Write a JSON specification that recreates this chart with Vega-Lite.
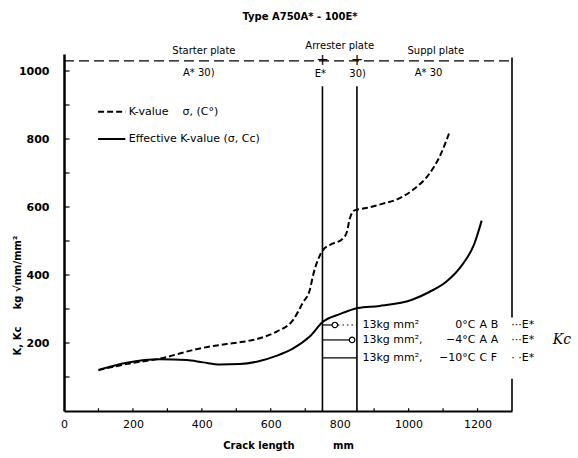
{
  "$schema": "https://vega.github.io/schema/vega-lite/v6.json",
  "width": 448,
  "height": 357,
  "autosize": "none",
  "padding": {"left": 64, "top": 54, "right": 66, "bottom": 47},
  "background": "white",
  "config": {"view": {"stroke": null}, "font": "DejaVu Sans", "text": {"font": "DejaVu Sans", "color": "black"}},
  "title": {"text": "Type A750A* - 100E*", "fontSize": 10, "fontWeight": "bold", "font": "DejaVu Sans", "color": "black", "anchor": "middle", "frame": "group", "offset": 19, "dx": 12},
  "datasets": {
    "kval": [
      {"x": 100, "y": 120}, {"x": 180, "y": 138}, {"x": 278, "y": 154}, {"x": 394, "y": 184}, {"x": 472, "y": 197},
      {"x": 510, "y": 202}, {"x": 568, "y": 214}, {"x": 616, "y": 233}, {"x": 665, "y": 268}, {"x": 694, "y": 320},
      {"x": 713, "y": 355}, {"x": 723, "y": 400}, {"x": 752, "y": 474}, {"x": 771, "y": 488}, {"x": 810, "y": 508},
      {"x": 821, "y": 527}, {"x": 829, "y": 565}, {"x": 843, "y": 590}, {"x": 877, "y": 597}, {"x": 926, "y": 610},
      {"x": 970, "y": 624}, {"x": 1012, "y": 650}, {"x": 1061, "y": 699}, {"x": 1090, "y": 748}, {"x": 1119, "y": 821}
    ],
    "keff": [
      {"x": 100, "y": 121}, {"x": 182, "y": 142}, {"x": 278, "y": 152}, {"x": 356, "y": 150}, {"x": 404, "y": 143},
      {"x": 452, "y": 137}, {"x": 510, "y": 138}, {"x": 568, "y": 147}, {"x": 616, "y": 162}, {"x": 665, "y": 184},
      {"x": 713, "y": 219}, {"x": 752, "y": 263}, {"x": 800, "y": 285}, {"x": 853, "y": 303}, {"x": 916, "y": 309},
      {"x": 1012, "y": 328}, {"x": 1060, "y": 350}, {"x": 1109, "y": 380}, {"x": 1157, "y": 432}, {"x": 1190, "y": 490},
      {"x": 1212, "y": 560}
    ],
    "vlines": [
      {"x": 750, "y0": 0, "y1": 955}, {"x": 850, "y0": 0, "y1": 955},
      {"x": 1300, "y0": 0, "y1": 95}, {"x": 1300, "y0": 275, "y1": 1040}
    ],
    "yticks": [
      {"y": 100, "x0": 0, "x1": 16}, {"y": 200, "x0": 0, "x1": 16}, {"y": 300, "x0": 0, "x1": 16}, {"y": 400, "x0": 0, "x1": 16},
      {"y": 500, "x0": 0, "x1": 16}, {"y": 600, "x0": 0, "x1": 16}, {"y": 700, "x0": 0, "x1": 16}, {"y": 800, "x0": 0, "x1": 16},
      {"y": 900, "x0": 0, "x1": 16}, {"y": 1000, "x0": 0, "x1": 16}
    ],
    "xticks": [
      {"x": 100, "y0": 0, "y1": 8}, {"x": 200, "y0": 0, "y1": 8}, {"x": 300, "y0": 0, "y1": 8}, {"x": 400, "y0": 0, "y1": 8},
      {"x": 500, "y0": 0, "y1": 8}, {"x": 600, "y0": 0, "y1": 8}, {"x": 700, "y0": 0, "y1": 8}, {"x": 900, "y0": 0, "y1": 8},
      {"x": 1000, "y0": 0, "y1": 8}, {"x": 1100, "y0": 0, "y1": 8}, {"x": 1200, "y0": 0, "y1": 8}
    ],
    "topline": [{"x0": 0, "x1": 1300, "y": 1030}],
    "plus": [{"x": 750, "y": 1030, "t": "+"}, {"x": 850, "y": 1030, "t": "+"}],
    "plates": [
      {"x": 406, "y": 1060, "t": "Starter plate"}, {"x": 800, "y": 1074, "t": "Arrester plate"},
      {"x": 1079, "y": 1060, "t": "Suppl plate"}, {"x": 391, "y": 993, "t": "A* 30)"},
      {"x": 744, "y": 990, "t": "E*"}, {"x": 852, "y": 990, "t": "30)"}, {"x": 1058, "y": 993, "t": "A* 30"}
    ],
    "legsolid": [{"x0": 99, "x1": 178, "y": 800}],
    "legdash": [{"x0": 99, "x1": 178, "y": 880}],
    "legtext": [
      {"x": 188, "y": 880, "t": "K-value\u00a0\u00a0\u00a0\u00a0σ, (C°)"},
      {"x": 188, "y": 800, "t": "Effective K-value (σ, Cc)"}
    ],
    "segs": [
      {"x0": 750, "x1": 786, "y": 253}, {"x0": 750, "x1": 836, "y": 209}, {"x0": 750, "x1": 850, "y": 156}
    ],
    "dots": [{"x0": 795, "x1": 850, "y": 253}],
    "circles": [{"x": 786, "y": 253}, {"x": 836, "y": 209}],
    "colA": [
      {"x": 866, "y": 253, "t": "13kg mm²"}, {"x": 866, "y": 209, "t": "13kg mm²,"}, {"x": 866, "y": 156, "t": "13kg mm²,"}
    ],
    "colB": [
      {"x": 1194, "y": 253, "t": "0°C"}, {"x": 1194, "y": 209, "t": "−4°C"}, {"x": 1194, "y": 156, "t": "−10°C"}
    ],
    "colC": [
      {"x": 1206, "y": 253, "t": "A B"}, {"x": 1206, "y": 209, "t": "A A"}, {"x": 1206, "y": 156, "t": "C F"}
    ],
    "colD": [
      {"x": 1298, "y": 253, "t": "···E*"}, {"x": 1298, "y": 209, "t": "···E*"}, {"x": 1298, "y": 156, "t": "· ·E*"}
    ],
    "kc": [{"x": 1445, "y": 209, "t": "Kc"}]
  },
  "layer": [
    {
      "data": {"name": "kval"},
      "mark": {"type": "line", "color": "black", "strokeWidth": 2, "strokeDash": [6, 3], "interpolate": "monotone"},
      "encoding": {
        "x": {"field": "x", "type": "quantitative", "scale": {"domain": [0, 1300], "nice": false, "zero": false},
          "axis": {"values": [0, 200, 400, 600, 800, 1000, 1200], "format": "d", "grid": false, "domainColor": "black", "domainWidth": 2,
            "ticks": false, "labelFontSize": 11, "labelColor": "black", "labelPadding": 7,
            "labelFlush": false, "title": "Crack length\u00a0\u00a0\u00a0\u00a0\u00a0\u00a0\u00a0\u00a0\u00a0\u00a0\u00a0mm", "titleFontSize": 10, "titleFontWeight": "bold",
            "titleColor": "black", "titlePadding": 11}},
        "y": {"field": "y", "type": "quantitative", "scale": {"domain": [0, 1050], "nice": false, "zero": false},
          "axis": {"values": [200, 400, 600, 800, 1000], "format": "d",
            "grid": false, "domainColor": "black", "domainWidth": 2.5, "ticks": false,
            "labelFontSize": 11, "labelColor": "black", "labelPadding": 15, "labelFontWeight": "bold",
            "title": "K, Kc\u00a0\u00a0\u00a0\u00a0\u00a0kg √mm/mm²", "titleFontSize": 10, "titleFontWeight": "bold", "titleColor": "black",
            "titleX": -42, "titleY": 241}}
      }
    },
    {
      "data": {"name": "keff"},
      "mark": {"type": "line", "color": "black", "strokeWidth": 2, "interpolate": "monotone"},
      "encoding": {"x": {"field": "x", "type": "quantitative"}, "y": {"field": "y", "type": "quantitative"}}
    },
    {
      "data": {"name": "vlines"},
      "mark": {"type": "rule", "color": "black", "strokeWidth": 1.6},
      "encoding": {"x": {"field": "x", "type": "quantitative"}, "y": {"field": "y0", "type": "quantitative"}, "y2": {"field": "y1"}}
    },
    {
      "data": {"name": "yticks"},
      "mark": {"type": "rule", "color": "black", "strokeWidth": 1.2},
      "encoding": {"x": {"field": "x0", "type": "quantitative"}, "x2": {"field": "x1"}, "y": {"field": "y", "type": "quantitative"}}
    },
    {
      "data": {"name": "xticks"},
      "mark": {"type": "rule", "color": "black", "strokeWidth": 1.2},
      "encoding": {"x": {"field": "x", "type": "quantitative"}, "y": {"field": "y0", "type": "quantitative"}, "y2": {"field": "y1"}}
    },
    {
      "data": {"name": "topline"},
      "mark": {"type": "rule", "color": "black", "strokeWidth": 1.2, "strokeDash": [10, 5]},
      "encoding": {"x": {"field": "x0", "type": "quantitative"}, "x2": {"field": "x1"}, "y": {"field": "y", "type": "quantitative"}}
    },
    {
      "data": {"name": "plus"},
      "mark": {"type": "text", "fontSize": 15, "baseline": "middle", "align": "center", "dy": -1},
      "encoding": {"x": {"field": "x", "type": "quantitative"}, "y": {"field": "y", "type": "quantitative"}, "text": {"field": "t"}}
    },
    {
      "data": {"name": "plates"},
      "mark": {"type": "text", "fontSize": 10, "baseline": "middle", "align": "center"},
      "encoding": {"x": {"field": "x", "type": "quantitative"}, "y": {"field": "y", "type": "quantitative"}, "text": {"field": "t"}}
    },
    {
      "data": {"name": "legsolid"},
      "mark": {"type": "rule", "color": "black", "strokeWidth": 2},
      "encoding": {"x": {"field": "x0", "type": "quantitative"}, "x2": {"field": "x1"}, "y": {"field": "y", "type": "quantitative"}}
    },
    {
      "data": {"name": "legdash"},
      "mark": {"type": "rule", "color": "black", "strokeWidth": 2, "strokeDash": [6, 3]},
      "encoding": {"x": {"field": "x0", "type": "quantitative"}, "x2": {"field": "x1"}, "y": {"field": "y", "type": "quantitative"}}
    },
    {
      "data": {"name": "legtext"},
      "mark": {"type": "text", "fontSize": 11, "baseline": "middle", "align": "left"},
      "encoding": {"x": {"field": "x", "type": "quantitative"}, "y": {"field": "y", "type": "quantitative"}, "text": {"field": "t"}}
    },
    {
      "data": {"name": "segs"},
      "mark": {"type": "rule", "color": "black", "strokeWidth": 1.2},
      "encoding": {"x": {"field": "x0", "type": "quantitative"}, "x2": {"field": "x1"}, "y": {"field": "y", "type": "quantitative"}}
    },
    {
      "data": {"name": "dots"},
      "mark": {"type": "rule", "color": "black", "strokeWidth": 1.2, "strokeDash": [1.5, 3]},
      "encoding": {"x": {"field": "x0", "type": "quantitative"}, "x2": {"field": "x1"}, "y": {"field": "y", "type": "quantitative"}}
    },
    {
      "data": {"name": "circles"},
      "mark": {"type": "point", "shape": "circle", "filled": true, "fill": "white", "stroke": "black", "strokeWidth": 1.2, "size": 30, "opacity": 1},
      "encoding": {"x": {"field": "x", "type": "quantitative"}, "y": {"field": "y", "type": "quantitative"}}
    },
    {
      "data": {"name": "colA"},
      "mark": {"type": "text", "fontSize": 11, "baseline": "middle", "align": "left"},
      "encoding": {"x": {"field": "x", "type": "quantitative"}, "y": {"field": "y", "type": "quantitative"}, "text": {"field": "t"}}
    },
    {
      "data": {"name": "colB"},
      "mark": {"type": "text", "fontSize": 11, "baseline": "middle", "align": "right"},
      "encoding": {"x": {"field": "x", "type": "quantitative"}, "y": {"field": "y", "type": "quantitative"}, "text": {"field": "t"}}
    },
    {
      "data": {"name": "colC"},
      "mark": {"type": "text", "fontSize": 11, "baseline": "middle", "align": "left"},
      "encoding": {"x": {"field": "x", "type": "quantitative"}, "y": {"field": "y", "type": "quantitative"}, "text": {"field": "t"}}
    },
    {
      "data": {"name": "colD"},
      "mark": {"type": "text", "fontSize": 11, "baseline": "middle", "align": "left"},
      "encoding": {"x": {"field": "x", "type": "quantitative"}, "y": {"field": "y", "type": "quantitative"}, "text": {"field": "t"}}
    },
    {
      "data": {"name": "kc"},
      "mark": {"type": "text", "fontSize": 14, "fontStyle": "italic", "font": "DejaVu Serif", "baseline": "middle", "align": "center"},
      "encoding": {"x": {"field": "x", "type": "quantitative"}, "y": {"field": "y", "type": "quantitative"}, "text": {"field": "t"}}
    }
  ]
}
